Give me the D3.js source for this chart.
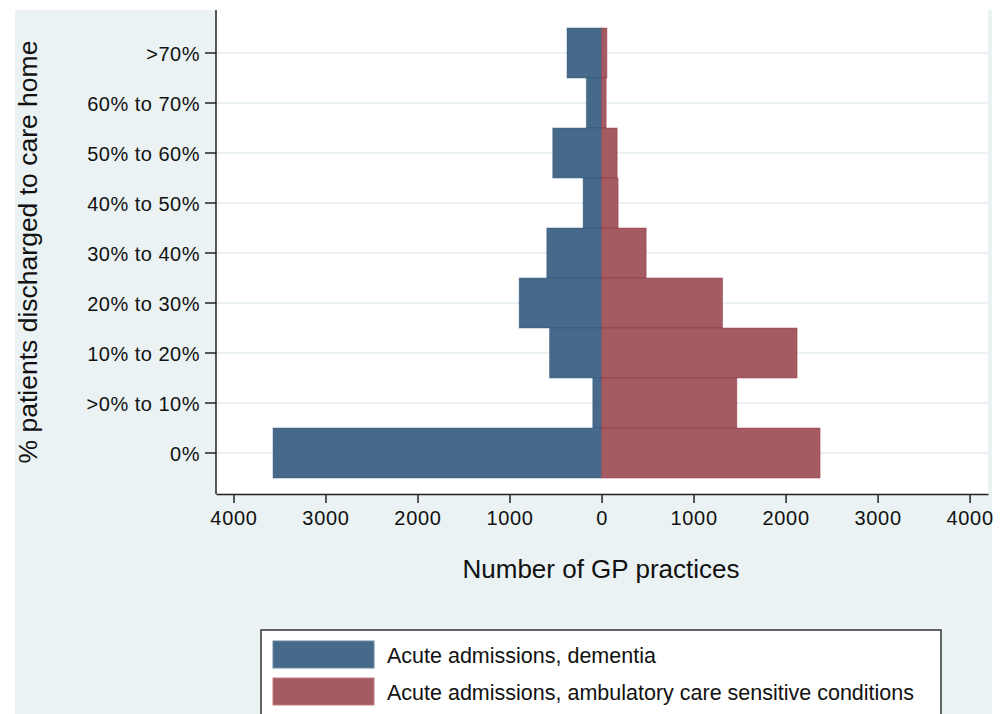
<!DOCTYPE html>
<html>
<head>
<meta charset="utf-8">
<script src="https://cdn.jsdelivr.net/npm/d3@7"></script>
<style>
  body { margin: 0; background: #fff; }
  svg { display: block; font-family: "Liberation Sans", Arial, Helvetica, sans-serif; }
</style>
</head>
<body>
<div id="chart"></div>
<script>
// categories, top to bottom
var categories = [">70%", "60% to 70%", "50% to 60%", "40% to 50%", "30% to 40%",
                  "20% to 30%", "10% to 20%", ">0% to 10%", "0%"];
// number of GP practices
var dementia   = [375, 165, 530, 200, 595, 895, 565, 95, 3570];
var ambulatory = [58, 50, 170, 180, 485, 1315, 2125, 1470, 2375];
var xTicks = [-4000, -3000, -2000, -1000, 0, 1000, 2000, 3000, 4000];
var seriesNames = ["Acute admissions, dementia",
                   "Acute admissions, ambulatory care sensitive conditions"];

var W = 1007, H = 714;
var plot = {left: 216, right: 988, top: 10, bottom: 494};
var blue = "#476a8b", red = "#a45c62";
var bgcol = "#eaf2f3";

var svg = d3.select("#chart").append("svg")
  .attr("width", W).attr("height", H);

// outer graph region
svg.append("rect")
  .attr("x", 15).attr("y", 10).attr("width", 977).attr("height", H)
  .attr("fill", bgcol);

// plot region
svg.append("rect")
  .attr("x", plot.left).attr("y", plot.top)
  .attr("width", plot.right - plot.left).attr("height", plot.bottom - plot.top)
  .attr("fill", "#fff");

var x = d3.scaleLinear()
  .domain([-4190, 4200])
  .range([plot.left, plot.right]);

var y = d3.scaleBand()
  .domain(categories)
  .range([28, 478])
  .padding(0);

// grid lines
svg.append("g").selectAll("line")
  .data(categories)
  .enter().append("line")
  .attr("x1", plot.left).attr("x2", plot.right)
  .attr("y1", function(d) { return y(d) + y.bandwidth() / 2; })
  .attr("y2", function(d) { return y(d) + y.bandwidth() / 2; })
  .attr("stroke", bgcol)
  .attr("stroke-width", 2);

var rows = categories.map(function(c, i) {
  return {cat: c, dem: dementia[i], amb: ambulatory[i]};
});

// dementia bars (left)
svg.append("g").selectAll("rect")
  .data(rows)
  .enter().append("rect")
  .attr("x", function(d) { return x(-d.dem); })
  .attr("y", function(d) { return y(d.cat); })
  .attr("width", function(d) { return x(0) - x(-d.dem); })
  .attr("height", y.bandwidth())
  .attr("fill", blue)
  .attr("stroke", "#2a5478")
  .attr("stroke-opacity", 0.45)
  .attr("stroke-width", 1);

// ambulatory bars (right)
svg.append("g").selectAll("rect")
  .data(rows)
  .enter().append("rect")
  .attr("x", x(0))
  .attr("y", function(d) { return y(d.cat); })
  .attr("width", function(d) { return x(d.amb) - x(0); })
  .attr("height", y.bandwidth())
  .attr("fill", red)
  .attr("stroke", "#8e2f3c")
  .attr("stroke-opacity", 0.45)
  .attr("stroke-width", 1);

// y axis
var yAxis = svg.append("g")
  .attr("transform", "translate(" + plot.left + ",0)")
  .call(d3.axisLeft(y).tickSize(11).tickPadding(5));
yAxis.select(".domain").remove();
yAxis.selectAll(".tick line").attr("stroke", "#222").attr("stroke-width", 1.5);
yAxis.selectAll(".tick text")
  .attr("dy", "0.42em")
  .attr("fill", "#111")
  .style("font-size", "20px")
  .style("letter-spacing", "0.5px")
  .style("font-family", "'Liberation Sans', Arial, sans-serif");
svg.append("line")
  .attr("x1", plot.left).attr("x2", plot.left)
  .attr("y1", plot.top).attr("y2", plot.bottom)
  .attr("stroke", "#222").attr("stroke-width", 1.5);

// x axis
var xAxis = svg.append("g")
  .attr("transform", "translate(0," + plot.bottom + ")")
  .call(d3.axisBottom(x).tickValues(xTicks).tickSize(9).tickSizeOuter(0).tickPadding(8)
        .tickFormat(function(d) { return Math.abs(d); }));
xAxis.select(".domain").attr("stroke", "#222").attr("stroke-width", 1.5);
xAxis.selectAll(".tick line").attr("stroke", "#222").attr("stroke-width", 1.5);
xAxis.selectAll(".tick text")
  .attr("fill", "#111")
  .style("font-size", "20px")
  .style("letter-spacing", "0.7px")
  .style("font-family", "'Liberation Sans', Arial, sans-serif");

// axis titles
svg.append("text")
  .attr("x", (plot.left + plot.right) / 2 - 1)
  .attr("y", 578)
  .attr("text-anchor", "middle")
  .attr("fill", "#111")
  .style("font-size", "26px")
  .text("Number of GP practices");

svg.append("text")
  .attr("transform", "translate(37," + ((plot.top + plot.bottom) / 2) + ") rotate(-90)")
  .attr("text-anchor", "middle")
  .attr("fill", "#111")
  .style("font-size", "26.5px")
  .text("% patients discharged to care home");

// legend
var lg = svg.append("g");
lg.append("rect")
  .attr("x", 261).attr("y", 630).attr("width", 680).attr("height", 100)
  .attr("fill", "#fff").attr("stroke", "#333").attr("stroke-width", 1.5);

var legendColors = [blue, red];
var item = lg.selectAll("g.item")
  .data(seriesNames)
  .enter().append("g")
  .attr("class", "item")
  .attr("transform", function(d, i) { return "translate(273," + (641 + i * 37) + ")"; });
item.append("rect")
  .attr("width", 101).attr("height", 27)
  .attr("fill", function(d, i) { return legendColors[i]; })
  .attr("stroke", function(d, i) { return i ? "#c07a80" : "#6a88a4"; })
  .attr("stroke-width", 1);
item.append("text")
  .attr("x", 114).attr("y", 22)
  .attr("fill", "#111")
  .style("font-size", "21.5px")
  .text(function(d) { return d; });
</script>
</body>
</html>
